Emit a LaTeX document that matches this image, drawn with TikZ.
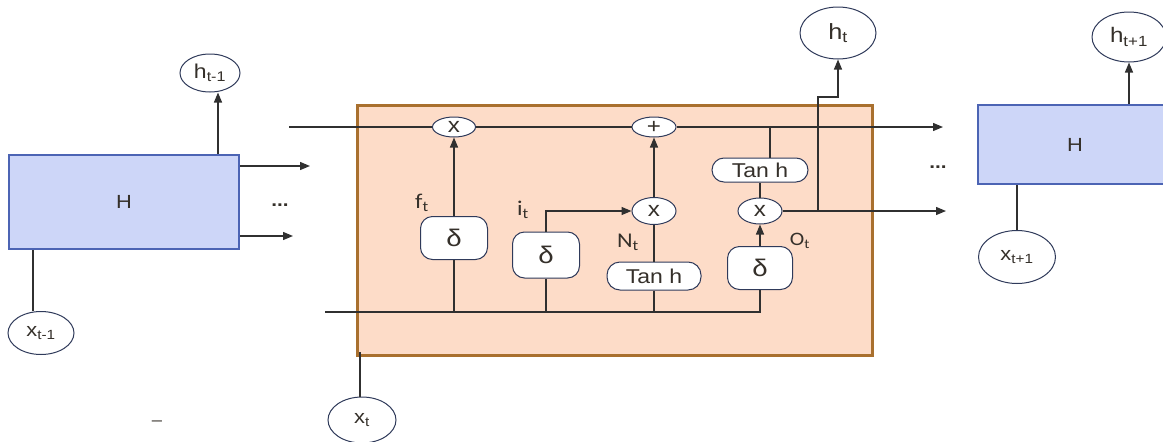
\documentclass[tikz,border=0pt]{standalone}
\usepackage{fontspec}
\setmainfont{Liberation Sans}[FakeStretch=1.15]
\newfontfamily\labfont{Carlito}[FakeStretch=1.15]
\usetikzlibrary{shapes.geometric,arrows.meta}
\definecolor{hfill}{HTML}{CDD6F8}
\definecolor{hdraw}{HTML}{4C64B4}
\definecolor{cfill}{HTML}{FDDCC8}
\definecolor{cdraw}{HTML}{A9702E}
\definecolor{ink}{HTML}{303030}
\definecolor{edraw}{HTML}{2F3A5A}
\definecolor{txt}{HTML}{35302A}
\begin{document}
\begin{tikzpicture}[x=1pt,y=-1pt,
  every node/.style={text=txt,inner sep=0pt},
  ln/.style={draw=ink,line width=1.3pt},
  arr/.style={ln,-{Triangle[length=10pt,width=8pt]}},
  hbox/.style={rectangle,draw=hdraw,fill=hfill,line width=2.2pt,font=\fontsize{19}{21}\selectfont},
  ell/.style={ellipse,draw=edraw,fill=white,line width=1pt},
  op/.style={ell,font=\fontsize{21}{23}\selectfont},
  gate/.style={rectangle,rounded corners=12pt,draw=edraw,fill=white,line width=1pt,minimum width=67pt,minimum height=43pt,font=\fontsize{24}{26}\selectfont},
  pill/.style={rectangle,draw=edraw,fill=white,line width=1pt,font=\fontsize{20}{22}\selectfont},
  lab/.style={font=\labfont\fontsize{21}{23}\selectfont},
  dotsty/.style={font=\bfseries\fontsize{18}{20}\selectfont}
]
\useasboundingbox (0,0) rectangle (1163,442);
\clip (0,0) rectangle (1163,442);

% cell box
\node[rectangle,draw=cdraw,fill=cfill,line width=3pt,minimum width=515pt,minimum height=250pt] (cell) at (614.5,230) {};

% left block
\node[hbox,minimum width=230pt,minimum height=94pt] (Hl) at (124,202) {H};
\node[ell,minimum width=60pt,minimum height=38pt,font=\fontsize{20}{22}\selectfont] (hl) at (210,73) {h\textsubscript{t-1}};
\node[ell,minimum width=66pt,minimum height=43pt,font=\fontsize{19}{21}\selectfont] (xl) at (41,333) {x\textsubscript{t-1}};
\node[dotsty] (dl) at (280,205) {...};

% right block
\node[hbox,minimum width=194pt,minimum height=79pt] (Hr) at (1075,144.5) {H};
\node[ell,minimum width=74pt,minimum height=50pt,font=\fontsize{21}{23}\selectfont] (hr) at (1129,37) {h\textsubscript{t+1}};
\node[ell,minimum width=77pt,minimum height=53pt,font=\fontsize{19}{21}\selectfont] (xr) at (1017,257) {x\textsubscript{t+1}};
\node[dotsty] (dr) at (938,167) {...};

% outputs / inputs of the cell
\node[ell,minimum width=76pt,minimum height=52pt,font=\fontsize{22}{24}\selectfont] (ht) at (838,33) {h\textsubscript{t}};
\node[ell,minimum width=68pt,minimum height=46pt,font=\fontsize{19}{21}\selectfont] (xt) at (362,420) {x\textsubscript{t}};
\node[font=\fontsize{16}{18}\selectfont] (dash) at (157,423) {–};

% operators
\node[op,minimum width=43pt,minimum height=20pt] (m1) at (454,127) {x};
\node[op,minimum width=44pt,minimum height=20pt] (pl) at (654,127) {+};
\node[op,minimum width=44pt,minimum height=27pt] (m2) at (654,211) {x};
\node[op,minimum width=44pt,minimum height=26pt] (m3) at (760,211) {x};

% gates
\node[gate] (d1) at (454,238) {δ};
\node[gate,minimum height=46pt] (d2) at (546,255) {δ};
\node[gate,minimum width=65pt] (d3) at (760,268) {δ};
\node[pill,rounded corners=13pt,minimum width=94pt,minimum height=28pt] (th1) at (654,276) {Tan h};
\node[pill,rounded corners=12pt,minimum width=96pt,minimum height=24pt] (th2) at (760,170) {Tan h};

% labels
\node[lab] (ft) at (422,203) {f\textsubscript{t}};
\node[lab] (it) at (523,210) {i\textsubscript{t}};
\node[lab] (nt) at (628,242) {N\textsubscript{t}};
\node[lab,font=\labfont\fontsize{19}{21}\selectfont] (ot) at (800,241) {O\textsubscript{t}};

% coordinates
\coordinate (tl) at (289,127);
\coordinate (bl) at (325,312);
\coordinate (tr) at (943,127);
\coordinate (mr) at (946,211);
\coordinate (a1) at (310,166);
\coordinate (a2) at (293,236);
\coordinate (br) at (818,211);
\coordinate (bu) at (818,97);
\coordinate (xin) at (360,352);

% left block connectors
\draw[arr] ([xshift=8pt]hl.south |- Hl.north) -- ([xshift=8pt]hl.south);
\draw[ln] ([xshift=-8pt]xl.north |- Hl.south) -- ([xshift=-8pt]xl.north);
\draw[arr] (Hl.east |- a1) -- (a1);
\draw[arr] (Hl.east |- a2) -- (a2);

% right block connectors
\draw[arr] (Hr.north -| hr.south) -- (hr.south);
\draw[ln] (Hr.south -| xr.north) -- (xr.north);

% cell state line
\draw[ln] (tl) -- (m1.west);
\draw[ln] (m1.east) -- (pl.west);
\draw[arr] (pl.east) -- (tr);
\draw[ln] ([xshift=10pt]th2.north) -- ([xshift=10pt]th2.north |- pl.east);

% input line
\draw[ln] (bl) -| (d3.south);
\draw[ln] (d1.south) -- (d1.south |- bl);
\draw[ln] (d2.south) -- (d2.south |- bl);
\draw[ln] (th1.south) -- (th1.south |- bl);
\draw[ln] (xin) -- (xin |- xt.north);

% gates
\draw[arr] (d1.north) -- (m1.south);
\draw[arr] (d2.north) |- (m2.west);
\draw[ln] (th1.north) -- (m2.south);
\draw[arr] (m2.north) -- (pl.south);
\draw[arr] (d3.north) -- (m3.south);
\draw[ln] (m3.north) -- (th2.south);
\draw[arr] (m3.east) -- (mr);
\draw[arr] (br) -- (bu) -| (ht.south);
\end{tikzpicture}
\end{document}
